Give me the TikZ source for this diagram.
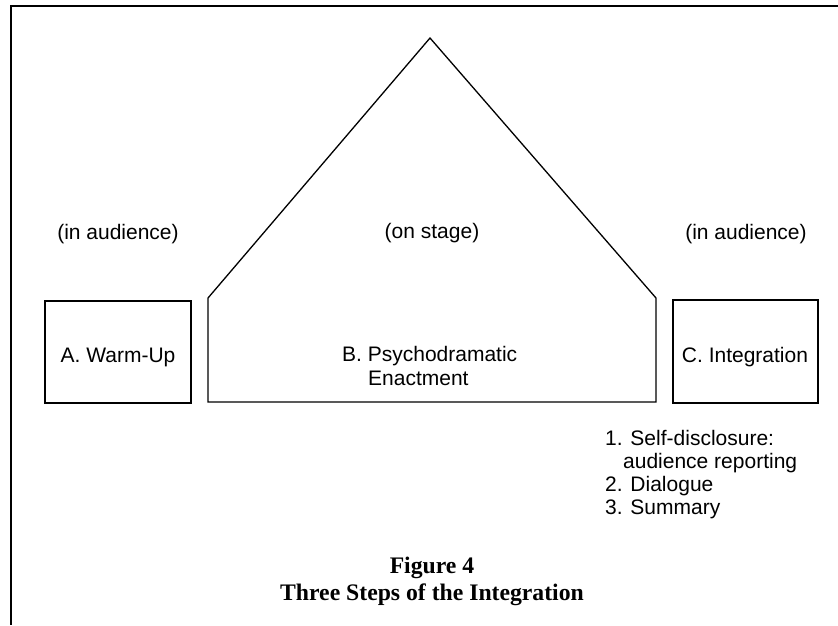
\documentclass[tikz,border=0pt]{standalone}
\usepackage{fontspec}
\setmainfont{Liberation Serif}
\newfontfamily\arialf{Liberation Sans}
\begin{document}
\begin{tikzpicture}[x=1pt,y=-1pt,
  lbl/.style={font=\arialf\fontsize{21}{25}\selectfont, inner sep=0pt},
  captxt/.style={font=\bfseries\fontsize{23.7}{27}\selectfont, inner sep=0pt},
  boxs/.style={draw, line width=1.3pt, minimum width=146pt, minimum height=102pt, inner sep=0pt},
  stage/.style={draw, line width=1.3pt, line join=miter},
  frame/.style={draw, line width=1.3pt}]
\useasboundingbox (0,0) rectangle (838,625);
% frame
\coordinate (ftl) at (11,6);
\coordinate (ftr) at (838,6);
\coordinate (fbl) at (11,625);
\draw[frame] (ftr) -- (ftl) -- (fbl);
% boxes
\node[boxs] (A) at (118,352) {};
\node[boxs, minimum width=145pt, minimum height=103pt] (C) at (745.5,351.5) {};
% stage
\coordinate (bl) at (208,402);
\coordinate (ls) at (208,298);
\coordinate (apex) at (430,38);
\coordinate (rs) at (656,298);
\coordinate (br) at (656,402);
\draw[stage] (bl) -- (ls) -- (apex) -- (rs) -- (br) -- cycle;
% labels
\node[lbl, anchor=base] (ia1) at (118,239) {(in audience)};
\node[lbl, anchor=base] (os) at (432,238) {(on stage)};
\node[lbl, anchor=base] (ia2) at (746,239) {(in audience)};
\node[lbl, anchor=base] (At) at (118,362) {A. Warm-Up};
\node[lbl, anchor=base] (Ct) at (745,362) {C. Integration};
\node[lbl, anchor=base west] (Bt1) at (342,361) {B. Psychodramatic};
\node[lbl, anchor=base west] (Bt2) at (368,385) {Enactment};
% list
\node[lbl, anchor=base west] (l1) at (605,445) {1. Self-disclosure:};
\node[lbl, anchor=base west] (l1b) at (623,468) {audience reporting};
\node[lbl, anchor=base west] (l2) at (605,491) {2. Dialogue};
\node[lbl, anchor=base west] (l3) at (605,514) {3. Summary};
% caption
\node[captxt, anchor=base] (cap1) at (432,573) {Figure 4};
\node[captxt, anchor=base] (cap2) at (432,600) {Three Steps of the Integration};
\end{tikzpicture}
\end{document}
